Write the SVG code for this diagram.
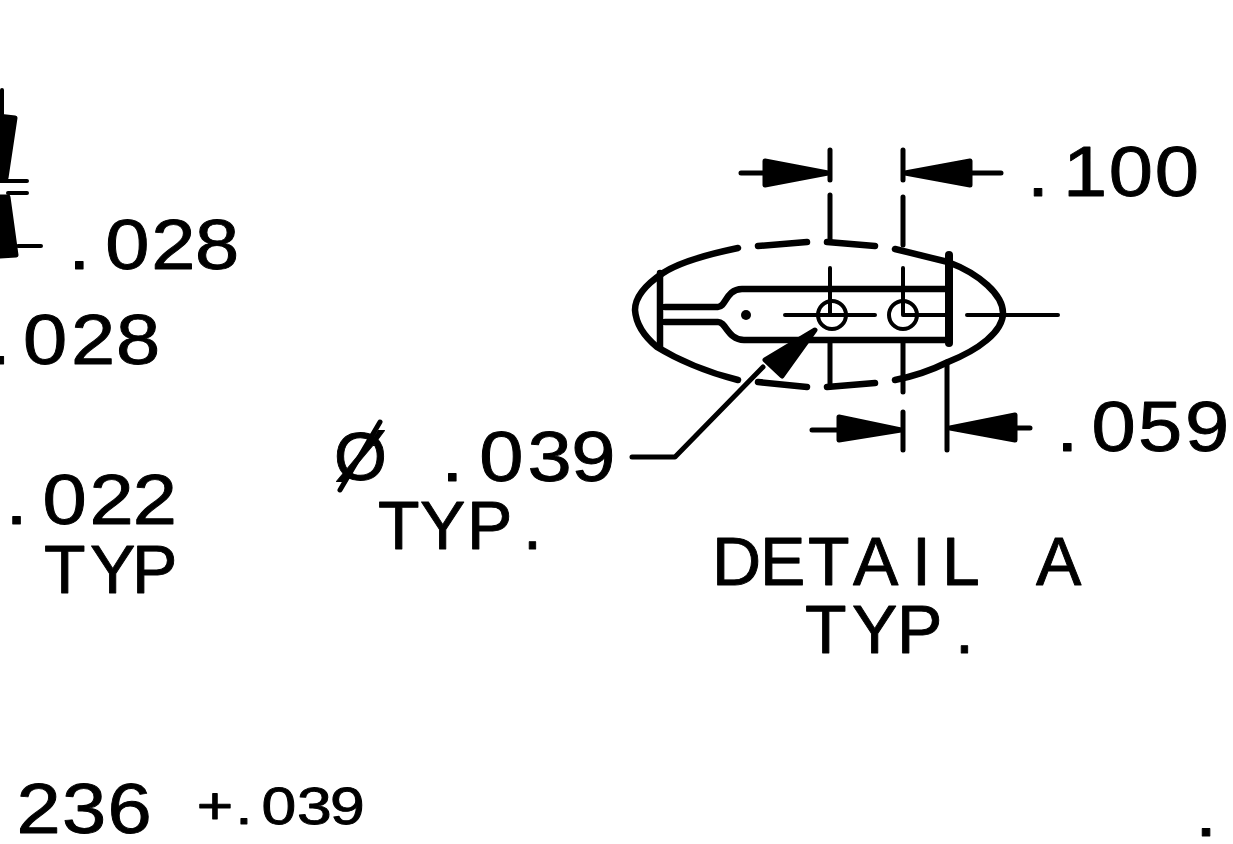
<svg xmlns="http://www.w3.org/2000/svg" width="1233" height="844" viewBox="0 0 1233 844">
<style>
text{font-family:"Liberation Sans",Arial,sans-serif;font-size:68px;fill:#000;stroke:#000;stroke-width:.9px;stroke-linejoin:round}
.d{font-size:71px}
.s{font-size:52px}
.l{fill:none;stroke:#000;stroke-width:4;stroke-linecap:round;stroke-linejoin:round}
.m{stroke-width:5}
.t{stroke-width:6.5}
.b{stroke-width:8}
.h{fill:#000;stroke:#000;stroke-width:5;stroke-linejoin:round}
</style>
<rect width="1233" height="844" fill="#fff"/>
<g id="left-fragment">
<path class="l" d="M2 90V114M0 181H27M8 193H27M18 246H41"/>
<path class="h" d="M-3 116L15 118L6 178H-3ZM-3 197H8L16 255L0 256H-3Z"/>
</g>
<g id="detail-a">
<path class="l t" d="M738 248C700 256 675 265 663 273C645 285 635 298 635 310C636 325 645 337 657 347C675 358 705 372 738 380"/>
<path class="l t" d="M758 246L807 242M827 242L875 246M895 249L948 262C980 274 1003 295 1003 313C1003 332 978 350 948 362C930 371 915 376 895 380M758 382L807 387M827 387L875 383"/>
<path class="l t" d="M660 273V347M665 307H718C726 307 726 289 742 289H948M665 322H718C726 322 728 340 744 340H948"/>
<path class="l b" d="M949 255V343"/>
<circle cx="746" cy="315" r="5" fill="#000"/>
<circle class="l" cx="832" cy="315" r="14"/>
<circle class="l" cx="903" cy="315" r="14"/>
</g>
<g id="connectors">
<path class="l" d="M785 315H875M903 315H945M967 315H1058M830 268V315M903 268V315"/>
<path class="l m" d="M830 195V240M903 197V245M830 343V387M903 343V392"/>
<path class="l m" d="M830 150V180M903 150V180M741 173H763M972 173H1001M903 412V450M947 362V450M812 430H837M1017 428H1030"/>
<path class="l m" d="M632 457H675L763 367"/>
<path class="h" d="M765 161L828 173L765 185ZM970 161V185L905 173ZM839 417L901 430L839 440ZM1015 415V440L950 428ZM815 330L765 360L782 376Z"/>
<path class="l m" d="M340 490L380 422"/>
</g>
<g id="labels">
<text class="d" transform="translate(0,196) scale(1.12,1)" x="917 949 990 1031">.100</text>
<text class="d" transform="translate(0,269) scale(1.12,1)" x="61 94 135 174">.028</text>
<text class="d" transform="translate(0,364) scale(1.12,1)" x="-10 20.5 63.5 103.6">.028</text>
<text class="d" transform="translate(0,524) scale(1.12,1)" x="5 38 80 118.6">.022</text>
<text x="44 90 132" y="593">TYP</text>
<text x="334" y="480">Ø</text>
<text class="d" transform="translate(0,481) scale(1.12,1)" x="394 428 471 510">.039</text>
<text x="378 420 467 523" y="549">TYP.</text>
<text x="712 760 808 853 912 942 1000 1036" y="585">DETAIL A</text>
<text x="805 852 897 955" y="653">TYP.</text>
<text class="d" transform="translate(0,451) scale(1.12,1)" x="943 974.6 1016 1058">.059</text>
<text class="d" transform="translate(0,833) scale(1.12,1)" x="14.7 55.4 96.1">236</text>
<text class="s" transform="translate(0,824) scale(1.2,1)" x="164 196 218 247.5 275">+.039</text>
<text class="d" transform="translate(0,836) scale(1.12,1)" x="1067">.</text>
</g>
</svg>
